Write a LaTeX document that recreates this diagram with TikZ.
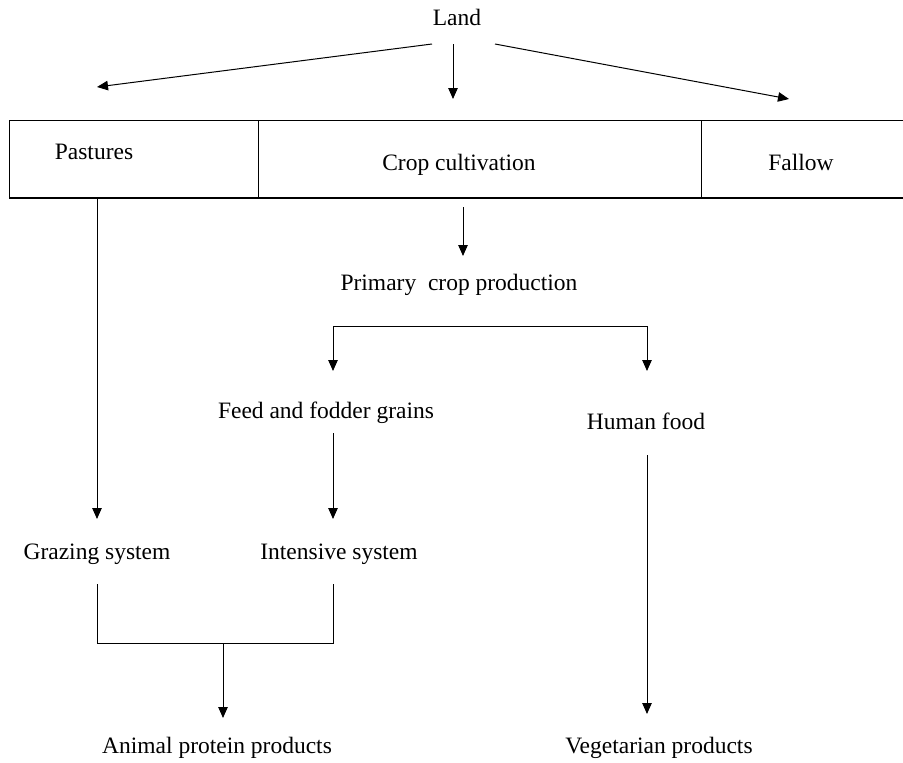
\documentclass[tikz,border=0pt]{standalone}
\usepackage{fontspec}
\setmainfont{Liberation Serif}
\usetikzlibrary{arrows.meta}
\begin{document}
\begin{tikzpicture}[x=1pt,y=-1pt,
  lbl/.style={inner sep=0pt, anchor=base, font=\fontsize{23.5}{28}\selectfont},
  cell/.style={draw, line width=1pt, anchor=north west, inner sep=0pt},
  arr/.style={-{Triangle[length=11pt,width=9.5pt]}, line width=1pt},
  ln/.style={line width=1pt}]
\useasboundingbox (0,0) rectangle (903,763);
% texts
\node[lbl] (land) at (457,25) {Land};
\node[cell, minimum width=249pt, minimum height=77pt] (cpast) at (9,120) {};
\node[cell, minimum width=443pt, minimum height=77pt] (ccrop) at (258,120) {};
\node[cell, minimum width=210pt, minimum height=77pt] (cfall) at (701,120) {};
\draw[line width=1.8pt] (cpast.south west) -- (cfall.south east);
\node[lbl] (past) at (94,159) {Pastures};
\node[lbl] (crop) at (459,170) {Crop cultivation};
\node[lbl] (fall) at (801,170) {Fallow};
\node[lbl] (prim) at (459,290) {Primary\ \ crop production};
\node[lbl] (feed) at (326,418) {Feed and fodder grains};
\node[lbl] (human) at (646,429) {Human food};
\node[lbl] (graz) at (97,559) {Grazing system};
\node[lbl] (inten) at (339,559) {Intensive system};
\node[lbl] (anim) at (217,753) {Animal protein products};
\node[lbl] (veg) at (659,753) {Vegetarian products};
% connector points
\coordinate (l1s) at (432,44);  \coordinate (l1e) at (97,87);
\coordinate (l2s) at (453,44);  \coordinate (l2e) at (453,99);
\coordinate (l3s) at (495,44);  \coordinate (l3e) at (789,99);
\coordinate (pe) at (97,519);
\coordinate (cs) at (463,207);  \coordinate (ce) at (463,256);
\coordinate (bl) at (333,326);  \coordinate (br) at (647,326);
\coordinate (ble) at (333,371); \coordinate (bre) at (647,371);
\coordinate (fs) at (333,433);  \coordinate (fe) at (333,519);
\coordinate (hs) at (647,455);  \coordinate (he) at (647,714);
\coordinate (gs) at (97,584);   \coordinate (is) at (333,584);
\coordinate (gb) at (97,643);   \coordinate (ib) at (333,643);
\coordinate (am) at (223,643);  \coordinate (ae) at (223,718);
% connectors
\draw[arr] (l1s) -- (l1e);
\draw[arr] (l2s) -- (l2e);
\draw[arr] (l3s) -- (l3e);
\draw[arr] (cpast.south west -| pe) -- (pe);
\draw[arr] (cs) -- (ce);
\draw[ln] (bl) -- (br);
\draw[arr] (bl) -- (ble);
\draw[arr] (br) -- (bre);
\draw[arr] (fs) -- (fe);
\draw[arr] (hs) -- (he);
\draw[ln] (gs) -- (gb) -- (ib) -- (is);
\draw[arr] (am) -- (ae);
\end{tikzpicture}
\end{document}
